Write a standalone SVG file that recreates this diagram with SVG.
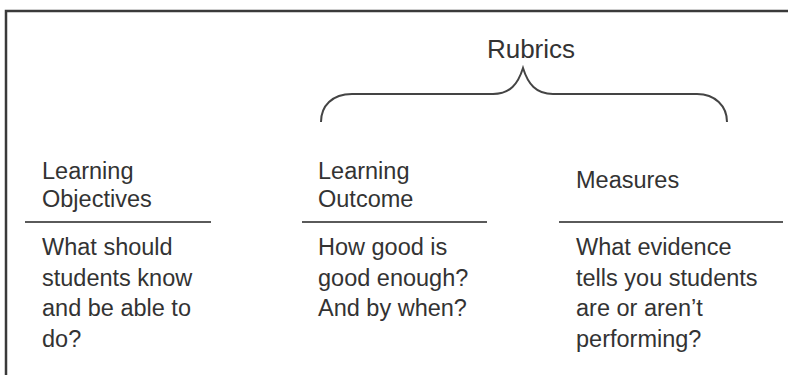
<svg xmlns="http://www.w3.org/2000/svg" width="788" height="375" viewBox="0 0 788 375">
  <style>
    .t { font-family: "Liberation Sans", Arial, sans-serif; font-size: 23.5px; fill: #333; }
    .big { font-size: 26px; }
    .rule { stroke: #5a5a5a; stroke-width: 2; fill: none; }
    .frame { stroke: #3a3a3a; stroke-width: 2.5; fill: none; }
    .brace { stroke: #444; stroke-width: 2; fill: none; }
  </style>
  <rect x="0" y="0" width="788" height="375" fill="#fff"/>
  <g id="frame">
    <path class="frame" d="M6,375 L6,11 L788,11"/>
  </g>
  <g id="rubrics">
    <text class="t big" x="531" y="58" text-anchor="middle">Rubrics</text>
  </g>
  <g id="connectors">
    <path class="brace" d="M321,122 C321,106 332,94 352,94 L493,94 C510,94 518,84 523,68 C528,84 536,94 553,94 L697,94 C715,94 727,106 727,122"/>
  </g>
  <g id="objectives">
    <text class="t" x="42" y="179">Learning</text>
    <text class="t" x="42" y="207">Objectives</text>
    <line class="rule" x1="25" y1="222" x2="211" y2="222"/>
    <text class="t" x="42" y="255">What should</text>
    <text class="t" x="42" y="286">students know</text>
    <text class="t" x="42" y="316">and be able to</text>
    <text class="t" x="42" y="347">do?</text>
  </g>
  <g id="outcome">
    <text class="t" x="318" y="179">Learning</text>
    <text class="t" x="318" y="207">Outcome</text>
    <line class="rule" x1="302" y1="222" x2="487" y2="222"/>
    <text class="t" x="318" y="255">How good is</text>
    <text class="t" x="318" y="286">good enough?</text>
    <text class="t" x="318" y="316">And by when?</text>
  </g>
  <g id="measures">
    <text class="t" x="576" y="188">Measures</text>
    <line class="rule" x1="559" y1="222" x2="783" y2="222"/>
    <text class="t" x="576" y="255">What evidence</text>
    <text class="t" x="576" y="286">tells you students</text>
    <text class="t" x="576" y="316">are or aren’t</text>
    <text class="t" x="576" y="347">performing?</text>
  </g>
</svg>
